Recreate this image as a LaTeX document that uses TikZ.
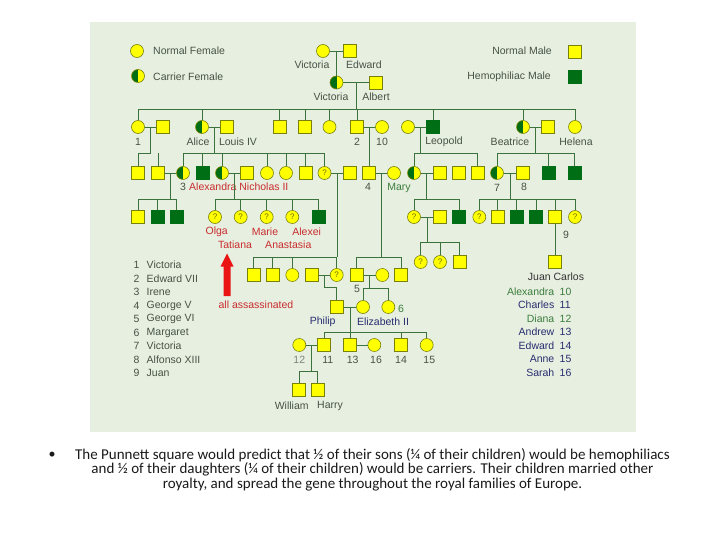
\documentclass[tikz,border=0pt]{standalone}
\usepackage{fontspec}
\setmainfont{Liberation Sans}
\newfontfamily\calfont{Carlito}
\usetikzlibrary{calc}
\definecolor{bg}{RGB}{231,239,225}
\definecolor{yel}{RGB}{255,255,0}
\definecolor{bord}{RGB}{120,130,10}
\definecolor{hemo}{RGB}{0,110,20}
\definecolor{linec}{RGB}{60,115,60}
\definecolor{labc}{RGB}{70,82,70}
\definecolor{greenlab}{RGB}{60,125,60}
\definecolor{navyc}{RGB}{40,45,110}
\definecolor{redc}{RGB}{200,45,45}
\definecolor{arrowc}{RGB}{235,20,20}
\definecolor{qcol}{RGB}{110,110,0}
\begin{document}
\begin{tikzpicture}[x=1pt,y=-1pt,
 sym/.style={draw=bord,line width=0.6pt,inner sep=0pt,minimum size=13pt},
 sq/.style={sym,rectangle,fill=yel},
 gsq/.style={sym,rectangle,fill=hemo,draw=hemo},
 fc/.style={sym,circle,fill=yel},
 cc/.style={fc,path picture={\fill[hemo] (path picture bounding box.south west) rectangle (path picture bounding box.north);}},
 qc/.style={fc,font=\fontsize{8}{8}\selectfont,text=qcol},
 ln/.style={draw=linec,line width=0.7pt},
 lab/.style={font=\fontsize{10.5}{12}\selectfont,text=labc,inner sep=0pt},
 rlab/.style={lab,text=redc},
 glab/.style={lab,text=greenlab},
 nlab/.style={lab,text=navyc}]
\useasboundingbox (0,0) rectangle (720,540);
\fill[bg] (90,22) rectangle (636,432);

% ---------- legend ----------
\node[fc] (lgF) at (137,51) {};
\node[lab,anchor=west] (tlgF) at (153,51) {Normal Female};
\node[cc] (lgC) at (138,76) {};
\node[lab,anchor=west] (tlgC) at (153,77) {Carrier Female};
\node[sq] (lgM) at (574.5,51.5) {};
\node[lab,anchor=east] (tlgM) at (552,51) {Normal Male};
\node[gsq] (lgH) at (574.5,76.5) {};
\node[lab,anchor=east] (tlgH) at (551,77) {Hemophiliac Male};

% ---------- generation 0 ----------
\node[fc] (vic) at (323,51) {};
\node[sq] (edw) at (350,51) {};
\node[lab] (tvic) at (312,65) {Victoria};
\node[lab] (tedw) at (364,65) {Edward};
\node[cc] (vic2) at (336.5,82.5) {};
\node[sq] (alb) at (376,82.5) {};
\node[lab] (tvic2) at (331,97) {Victoria};
\node[lab] (talb) at (376,97) {Albert};

% ---------- row 1 ----------
\foreach \n/\s/\x in {c1/fc/138, s1/sq/163, alice/cc/202, louis/sq/227, r1a/sq/279.5, r1b/sq/305, r1c/fc/329.5, ed7/sq/357, alx/fc/382, leow/fc/408, leo/gsq/433, bea/cc/523, beah/sq/548, hel/fc/575}
  \node[\s] (\n) at (\x,127) {};
\node[lab] (t1) at (138,142) {1};
\node[lab] (talice) at (198,142) {Alice};
\node[lab] (tlouis) at (238,142) {Louis IV};
\node[lab] (t2) at (357,142) {2};
\node[lab] (t10) at (382,142) {10};
\node[lab] (tleo) at (444,142) {Leopold};
\node[lab] (tbea) at (510,142) {Beatrice};
\node[lab] (thel) at (576,142) {Helena};

% ---------- row 2 ----------
\foreach \n/\s/\x in {k1/sq/138, k2/sq/158, irene/cc/183, hA/gsq/202.5, alexa/cc/222, nick/sq/247, r2a/fc/267, r2b/fc/286, r2c/sq/305.5, r2sp/sq/350, george/sq/369, mary/fc/394, alic/cc/414, lsp/sq/439.5, l2/sq/458.5, l3/sq/477.5, vic7/cc/497, alf8/sq/523, bg1/gsq/548.5, bg2/gsq/574.5}
  \node[\s] (\n) at (\x,173) {};
\node[qc] (q2) at (324.5,173) {?};
\node[lab] (t3) at (183,187) {3};
\node[rlab,anchor=west] (tan) at (189,187) {Alexandra Nicholas II};
\node[lab] (t4) at (368,187) {4};
\node[glab] (tmary) at (399,188) {Mary};
\node[lab] (t7) at (497,188) {7};
\node[lab] (t8) at (524,187) {8};

% ---------- row 3 ----------
\foreach \n/\s/\x in {i1/sq/138, i2/gsq/157.7, i3/gsq/176.7, alexei/gsq/318.3, q3sp/sq/440, g3/gsq/459, b3a/sq/497.7, b3b/gsq/516.7, b3c/gsq/536, juan/sq/555}
  \node[\s] (\n) at (\x,217) {};
\foreach \n/\x in {olga/215, tat/240.7, marie/266.7, ana/292.3, q3/414, q4/479.3, q5/575}
  \node[qc] (\n) at (\x,217) {?};
\node[rlab] (tolga) at (216.7,231.7) {Olga};
\node[rlab] (tmarie) at (265,231.7) {Marie};
\node[rlab] (talexei) at (306.7,231.7) {Alexei};
\node[rlab] (ttat) at (235,245) {Tatiana};
\node[rlab] (tana) at (288.3,245) {Anastasia};
\node[lab] (t9) at (566,235) {9};

% ---------- row 4 ----------
\node[qc] (q7) at (420.7,262) {?};
\node[qc] (q8) at (440,262) {?};
\node[sq] (r4s) at (459.3,262) {};
\node[sq] (jc) at (555,262) {};
\node[lab,text=black!80] (tjc) at (556,277) {Juan Carlos};

% ---------- row 5 ----------
\foreach \n/\s/\x in {r5a/sq/253.3, r5b/sq/272.7, r5c/fc/292.3, r5sp/sq/311.7, gvi/sq/356.7, elizm/fc/382.3, r5d/sq/401}
  \node[\s] (\n) at (\x,275) {};
\node[qc] (q6) at (336.7,275) {?};
\node[lab] (t5) at (357,289) {5};

% ---------- row 6 ----------
\node[sq] (philip) at (336.7,307) {};
\node[fc] (eliz) at (363,307) {};
\node[fc] (marg) at (388.3,307) {};
\node[nlab] (tphilip) at (322.7,321.7) {Philip};
\node[nlab] (teliz) at (383,321.7) {Elizabeth II};
\node[glab] (t6) at (401,309) {6};

% ---------- row 7 ----------
\foreach \n/\s/\x in {diana/fc/299.3, charles/sq/324, andrew/sq/350, sarah/fc/374.3, edward/sq/401, anne/fc/426.7}
  \node[\s] (\n) at (\x,345) {};
\node[lab,text=labc!70] (t12) at (299.3,360) {12};
\node[lab] (t11) at (327.7,360) {11};
\node[lab] (t13) at (352.7,360) {13};
\node[lab] (t16) at (376,360) {16};
\node[lab] (t14) at (401,360) {14};
\node[lab] (t15) at (429.3,360) {15};

% ---------- row 8 ----------
\node[sq] (will) at (299,390) {};
\node[sq] (harry) at (317.7,390) {};
\node[nlab,text=labc] (twill) at (291.7,406) {William};
\node[nlab,text=labc] (tharry) at (330,406) {Harry};

% ---------- left list ----------
\foreach \i/\num/\name in {0/1/Victoria, 1/2/Edward VII, 2/3/Irene, 3/4/George V, 4/5/George VI, 5/6/Margaret, 6/7/Victoria, 7/8/Alfonso XIII, 8/9/Juan}{
  \node[lab] (ln\i) at (136.5,265+13.5*\i) {\num};
  \node[lab,anchor=west] (lname\i) at (146.5,265+13.5*\i) {\name};
}
% ---------- right list ----------
\foreach \i/\name/\num/\c in {0/Alexandra/10/greenlab, 1/Charles/11/navyc, 2/Diana/12/greenlab, 3/Andrew/13/navyc, 4/Edward/14/navyc, 5/Anne/15/navyc, 6/Sarah/16/navyc}{
  \node[lab,text=\c,anchor=east] (rname\i) at (554.5,291.5+13.5*\i) {\name};
  \node[lab,text=\c,anchor=west] (rn\i) at (559.5,291.5+13.5*\i) {\num};
}

% ---------- red arrow ----------
\fill[arrowc] (223.5,296) -- (230.5,296) -- (230.5,266.5) -- (233.5,266.5) -- (227,253.5) -- (220.5,266.5) -- (223.5,266.5) -- cycle;
\node[rlab] (tass) at (256,305) {all assassinated};

% ---------- bar coordinates ----------
\coordinate (b1) at (0,109);
\coordinate (b2) at (0,153);
\coordinate (b3) at (0,199);
\coordinate (b4) at (0,242);
\coordinate (b5) at (0,257);
\coordinate (b6a) at (0,287);
\coordinate (b6b) at (0,288.3);
\coordinate (b7) at (0,332.7);
\coordinate (b8) at (0,371.7);

% ---------- marriages ----------
\foreach \a/\b in {vic/edw, vic2/alb, c1/s1, alice/louis, ed7/alx, leow/leo, bea/beah, k2/irene, alexa/nick, q2/r2sp, george/mary, alic/lsp, vic7/alf8, q3/q3sp, r5sp/q6, gvi/elizm, philip/eliz, diana/charles, andrew/sarah}{
  \draw[ln] (\a) -- (\b);
  \coordinate (m-\a) at ($(\a)!0.5!(\b)$);
}

% ---------- descents ----------
\draw[ln] (m-vic) -- (m-vic |- vic2.north);
\draw[ln] (m-ed7) -- (m-ed7 |- george.north);
\draw[ln] (juan) -- (jc);

\draw[ln] (m-vic2) -- (m-vic2 |- b1);
\draw[ln] (c1 |- b1) -- (hel |- b1);
\foreach \n in {c1,alice,r1a,r1b,r1c,ed7,leo,bea,hel} \draw[ln] (\n |- b1) -- (\n);

\draw[ln] (m-c1) -- (m-c1 |- b2);
\draw[ln] (k1 |- b2) -- (m-c1 |- b2);
\foreach \n in {k1,k2} \draw[ln] (\n |- b2) -- (\n);

\draw[ln] (m-alice) -- (m-alice |- b2);
\draw[ln] (irene |- b2) -- (q2 |- b2);
\foreach \n in {irene,hA,alexa,r2a,r2b,r2c,q2} \draw[ln] (\n |- b2) -- (\n);

\draw[ln] (m-leow) -- (m-leow |- b2);
\draw[ln] (alic |- b2) -- (l3 |- b2);
\foreach \n in {alic,l3} \draw[ln] (\n |- b2) -- (\n);

\draw[ln] (m-bea) -- (m-bea |- b2);
\draw[ln] (vic7 |- b2) -- (bg2 |- b2);
\foreach \n in {vic7,bg1,bg2} \draw[ln] (\n |- b2) -- (\n);

\draw[ln] (m-k2) -- (m-k2 |- b3);
\draw[ln] (i1 |- b3) -- (i3 |- b3);
\foreach \n in {i1,i2,i3} \draw[ln] (\n |- b3) -- (\n);

\draw[ln] (m-alexa) -- (m-alexa |- b3);
\draw[ln] (olga |- b3) -- (alexei |- b3);
\foreach \n in {olga,tat,marie,ana,alexei} \draw[ln] (\n |- b3) -- (\n);

\draw[ln] (m-alic) -- (m-alic |- b3);
\draw[ln] (q3 |- b3) -- (g3 |- b3);
\foreach \n in {q3,g3} \draw[ln] (\n |- b3) -- (\n);

\draw[ln] (m-vic7) -- (m-vic7 |- b3);
\draw[ln] (q4 |- b3) -- (q5 |- b3);
\foreach \n in {q4,b3a,b3b,b3c,juan,q5} \draw[ln] (\n |- b3) -- (\n);

\draw[ln] (m-q3) -- (m-q3 |- b4);
\draw[ln] (q7 |- b4) -- (r4s |- b4);
\foreach \n in {q7,q8,r4s} \draw[ln] (\n |- b4) -- (\n);

\draw[ln] (m-q2) -- (m-q2 |- b5);
\draw[ln] (r5a |- b5) -- (q6 |- b5);
\foreach \n in {r5a,r5b,r5c,q6} \draw[ln] (\n |- b5) -- (\n);

\draw[ln] (m-george) -- (m-george |- b5);
\draw[ln] (gvi |- b5) -- (r5d |- b5);
\foreach \n in {gvi,r5d} \draw[ln] (\n |- b5) -- (\n);

\draw[ln] (m-r5sp) -- (m-r5sp |- b6a) -- (philip |- b6a) -- (philip);

\draw[ln] (m-gvi) -- (m-gvi |- b6b);
\draw[ln] (eliz |- b6b) -- (marg |- b6b);
\foreach \n in {eliz,marg} \draw[ln] (\n |- b6b) -- (\n);

\draw[ln] (m-philip) -- (m-philip |- b7);
\draw[ln] (charles |- b7) -- (anne |- b7);
\foreach \n in {charles,andrew,edward,anne} \draw[ln] (\n |- b7) -- (\n);

\draw[ln] (m-diana) -- (m-diana |- b8);
\draw[ln] (will |- b8) -- (harry |- b8);
\foreach \n in {will,harry} \draw[ln] (\n |- b8) -- (\n);

% ---------- bottom text ----------
\node[font=\calfont\fontsize{14}{14}\selectfont,text=black!90,inner sep=0pt] (bul) at (52,455) {•};
\node[font=\calfont\fontsize{15}{14.6}\selectfont,text=black!90,align=center,inner sep=0pt] (txt) at (372.5,469.5)
 {The Punnett square would predict that ½ of their sons (¼ of their children) would be hemophiliacs\\
  and ½ of their daughters (¼ of their children) would be carriers. Their children married other\\
  royalty, and spread the gene throughout the royal families of Europe.};
\end{tikzpicture}
\end{document}
